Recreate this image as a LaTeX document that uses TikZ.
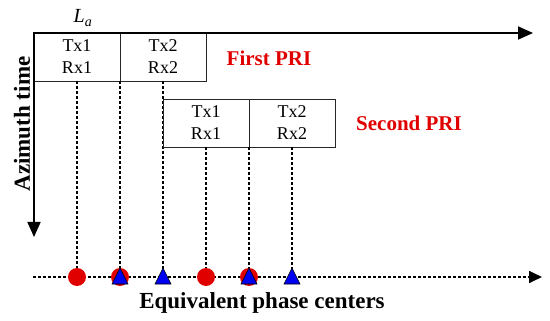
\documentclass[tikz,border=0pt]{standalone}
\usepackage{fontspec}
\setmainfont{Liberation Serif}
\usetikzlibrary{arrows.meta}
\definecolor{pred}{RGB}{225,0,0}
\definecolor{pblue}{RGB}{0,0,240}
\tikzset{
  box/.style={draw=black!85,line width=0.8pt,fill=white,minimum width=86pt,minimum height=48pt,inner sep=0pt,outer sep=0pt,align=center,font=\fontsize{18}{22}\selectfont},
  axis/.style={line width=1.8pt,-{Triangle[length=15pt,width=13pt]}},
  dline/.style={line width=1.7pt,dash pattern=on 3pt off 2pt},
  redlab/.style={text=pred,font=\bfseries\fontsize{21}{24}\selectfont},
  biglab/.style={font=\bfseries\fontsize{23}{26}\selectfont},
  dotmark/.style={fill=pred},
  trimark/.style={fill=pblue,draw=black,line width=0.6pt,line join=miter}
}
\begin{document}
\begin{tikzpicture}[x=1pt,y=-1pt]
\useasboundingbox (0,0) rectangle (550,321);
% axes
\coordinate (O) at (34,33);
\coordinate (Xe) at (533,33);
\coordinate (Ye) at (34,237);
\coordinate (B0) at (33,277);
\coordinate (B1) at (542,277);
% phase center positions
\coordinate (m1) at (77,277);
\coordinate (m2) at (120,277);
\coordinate (m3) at (163,277);
\coordinate (m4) at (206,277);
\coordinate (m5) at (249,277);
\coordinate (m6) at (292,277);
% bottom axis
\draw[dline,-{Triangle[length=13pt,width=12pt]}] (B0) -- (B1);
% boxes and dashed lines
\node[box] (A) at (77,57) {Tx1\\Rx1};
\node[box] (B) at (163,57) {Tx2\\Rx2};
\draw[dline] (A.south) -- (m1);
\draw[dline] (A.south east) -- (m2);
\draw[dline] (B.south) -- (m3);
\node[box] (C) at (206,123) {Tx1\\Rx1};
\node[box] (D) at (292,123) {Tx2\\Rx2};
\draw[dline] (C.south) -- (m4);
\draw[dline] (C.south east) -- (m5);
\draw[dline] (D.south) -- (m6);
\draw[axis] ([xshift=-1pt]O) -- (Xe);
\draw[axis] (O) -- (Ye);
% markers
\fill[dotmark] (m1) circle (9);
\fill[dotmark] (m2) circle (9);
\fill[dotmark] (m4) circle (9);
\fill[dotmark] (m5) circle (9);
\filldraw[trimark] (m2) ++(-8,7) -- ++(16,0) -- ++(-8,-16) -- cycle;
\filldraw[trimark] (m3) ++(-8,7) -- ++(16,0) -- ++(-8,-16) -- cycle;
\filldraw[trimark] (m5) ++(-8,7) -- ++(16,0) -- ++(-8,-16) -- cycle;
\filldraw[trimark] (m6) ++(-8,7) -- ++(16,0) -- ++(-8,-16) -- cycle;
% labels
\node[font=\fontsize{20}{22}\selectfont] (La) at (83,18) {\textit{L}\textsubscript{\textit{a}}};
\node[redlab] (P1) at (269,58) {First PRI};
\node[redlab] (P2) at (409,123) {Second PRI};
\node[biglab,rotate=90] (Az) at (22,124) {Azimuth time};
\node[biglab] (Eq) at (262,303) {Equivalent phase centers};
\end{tikzpicture}
\end{document}
